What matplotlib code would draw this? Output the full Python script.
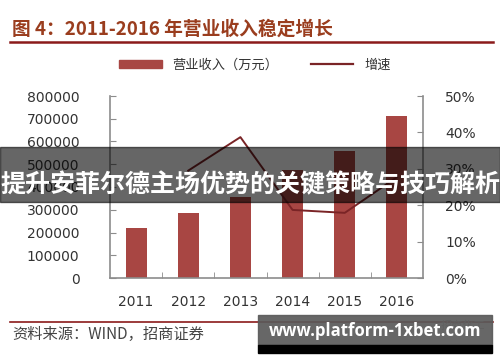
import matplotlib.pyplot as plt
from matplotlib.patches import Rectangle
from matplotlib.lines import Line2D

plt.rcParams["font.family"] = ["DejaVu Sans", "Noto Sans CJK SC"]

years = ["2011", "2012", "2013", "2014", "2015", "2016"]
revenue = [218000, 285000, 355000, 475000, 558000, 712000]
growth_years = ["2012", "2013", "2014", "2015", "2016"]
growth = [0.295, 0.387, 0.187, 0.179, 0.277]

title = "图 4：2011-2016 年营业收入稳定增长"
source = "资料来源：WIND，招商证券"
banner = "提升安菲尔德主场优势的关键策略与技巧解析"
watermark = "www.platform-1xbet.com"

BAR_COLOR = "#A84643"
LINE_COLOR = "#7A2426"
TEXT_COLOR = "#333333"
SPINE_COLOR = "#8c8c8c"
CJK = ["Noto Sans CJK SC", "DejaVu Sans"]

fig = plt.figure(figsize=(5, 3.62), dpi=100)
W, H = 500, 362

def fx(px):
    return px / W

def fy(py):
    return 1 - py / H

ax = fig.add_axes([fx(110), fy(278), fx(423) - fx(110), fy(96) - fy(278)])
x = range(len(years))
ax.bar(x, revenue, width=0.4, color=BAR_COLOR, zorder=2)
ax.set_xlim(-0.5, len(years) - 0.5)
ax.set_ylim(0, 800000)
ax.set_yticks(range(0, 800001, 100000))
ax.set_xticks(list(x))
ax.set_xticklabels(years)
ax.set_xticks([i + 0.5 for i in range(len(years) - 1)], minor=True)
ax.tick_params(axis="x", which="major", length=0, pad=12, labelsize=10, labelcolor=TEXT_COLOR)
ax.tick_params(axis="x", which="minor", direction="in", length=4, color=SPINE_COLOR)
ax.tick_params(axis="y", direction="in", length=4, color=SPINE_COLOR, pad=22,
               labelsize=10, labelcolor=TEXT_COLOR)
for s in ["top", "right"]:
    ax.spines[s].set_visible(False)
for s in ["left", "bottom"]:
    ax.spines[s].set_color(SPINE_COLOR)
    ax.spines[s].set_linewidth(1.2)

ax2 = ax.twinx()
gx = [years.index(y) for y in growth_years]
ax2.plot(gx, growth, color=LINE_COLOR, lw=1.4, zorder=3)
ax2.set_ylim(0, 0.5)
ax2.set_yticks([0, 0.1, 0.2, 0.3, 0.4, 0.5])
ax2.set_yticklabels(["0%", "10%", "20%", "30%", "40%", "50%"])
ax2.tick_params(axis="y", direction="in", length=4, color=SPINE_COLOR, pad=16,
                labelsize=10, labelcolor=TEXT_COLOR)
for s in ["top", "left", "bottom"]:
    ax2.spines[s].set_visible(False)
ax2.spines["right"].set_color(SPINE_COLOR)
ax2.spines["right"].set_linewidth(1.2)

# legend
handles = [Rectangle((0, 0), 1, 1, color=BAR_COLOR),
           Line2D([0], [0], color=LINE_COLOR, lw=1.6)]
fig.legend(handles, ["营业收入（万元）", "增速"], loc="center",
           bbox_to_anchor=(fx(255), fy(65)), ncol=2, frameon=False,
           prop={"family": CJK, "size": 9.5}, handlelength=3.2,
           handleheight=0.6, columnspacing=2.5, labelcolor=TEXT_COLOR)

# title and rules
fig.text(fx(12), fy(29), title, family=CJK, fontsize=13.5, fontweight="bold",
         color="#9A3D1E", va="center", ha="left")
fig.add_artist(Line2D([fx(10), fx(493)], [fy(42), fy(42)], color="#8B1A1A", lw=1.8))
fig.add_artist(Line2D([fx(10), fx(493)], [fy(322), fy(322)], color="#8B1A1A", lw=1.2))
fig.text(fx(12), fy(334), source, family=CJK, fontsize=11, color="#444444",
         va="center", ha="left")
fig.text(fx(485), fy(326), "招商化工", family=CJK, fontsize=8, color="#999999",
         va="center", ha="right")

# overlay banner
fig.add_artist(Rectangle((0, fy(202)), 1, fy(147) - fy(202), transform=fig.transFigure,
                         color="black", alpha=0.6, zorder=10))
fig.text(0.5, fy(185), banner, family=CJK, fontsize=18, fontweight="bold",
         color="white", ha="center", va="center", zorder=11)

# watermark box
fig.add_artist(Rectangle((fx(258), fy(345)), fx(492) - fx(258), fy(315) - fy(345),
                         transform=fig.transFigure, color="#5a5a5a", alpha=0.92, zorder=10))
fig.add_artist(Rectangle((fx(258), fy(353)), fx(492) - fx(258), fy(345) - fy(353),
                         transform=fig.transFigure, color="black", zorder=10))
fig.text(fx(375), fy(331), watermark, family=["Open Sans", "DejaVu Sans"], fontsize=12,
         fontweight="bold", color="white", ha="center", va="center", zorder=11)

fig.savefig("out.png", dpi=100)
